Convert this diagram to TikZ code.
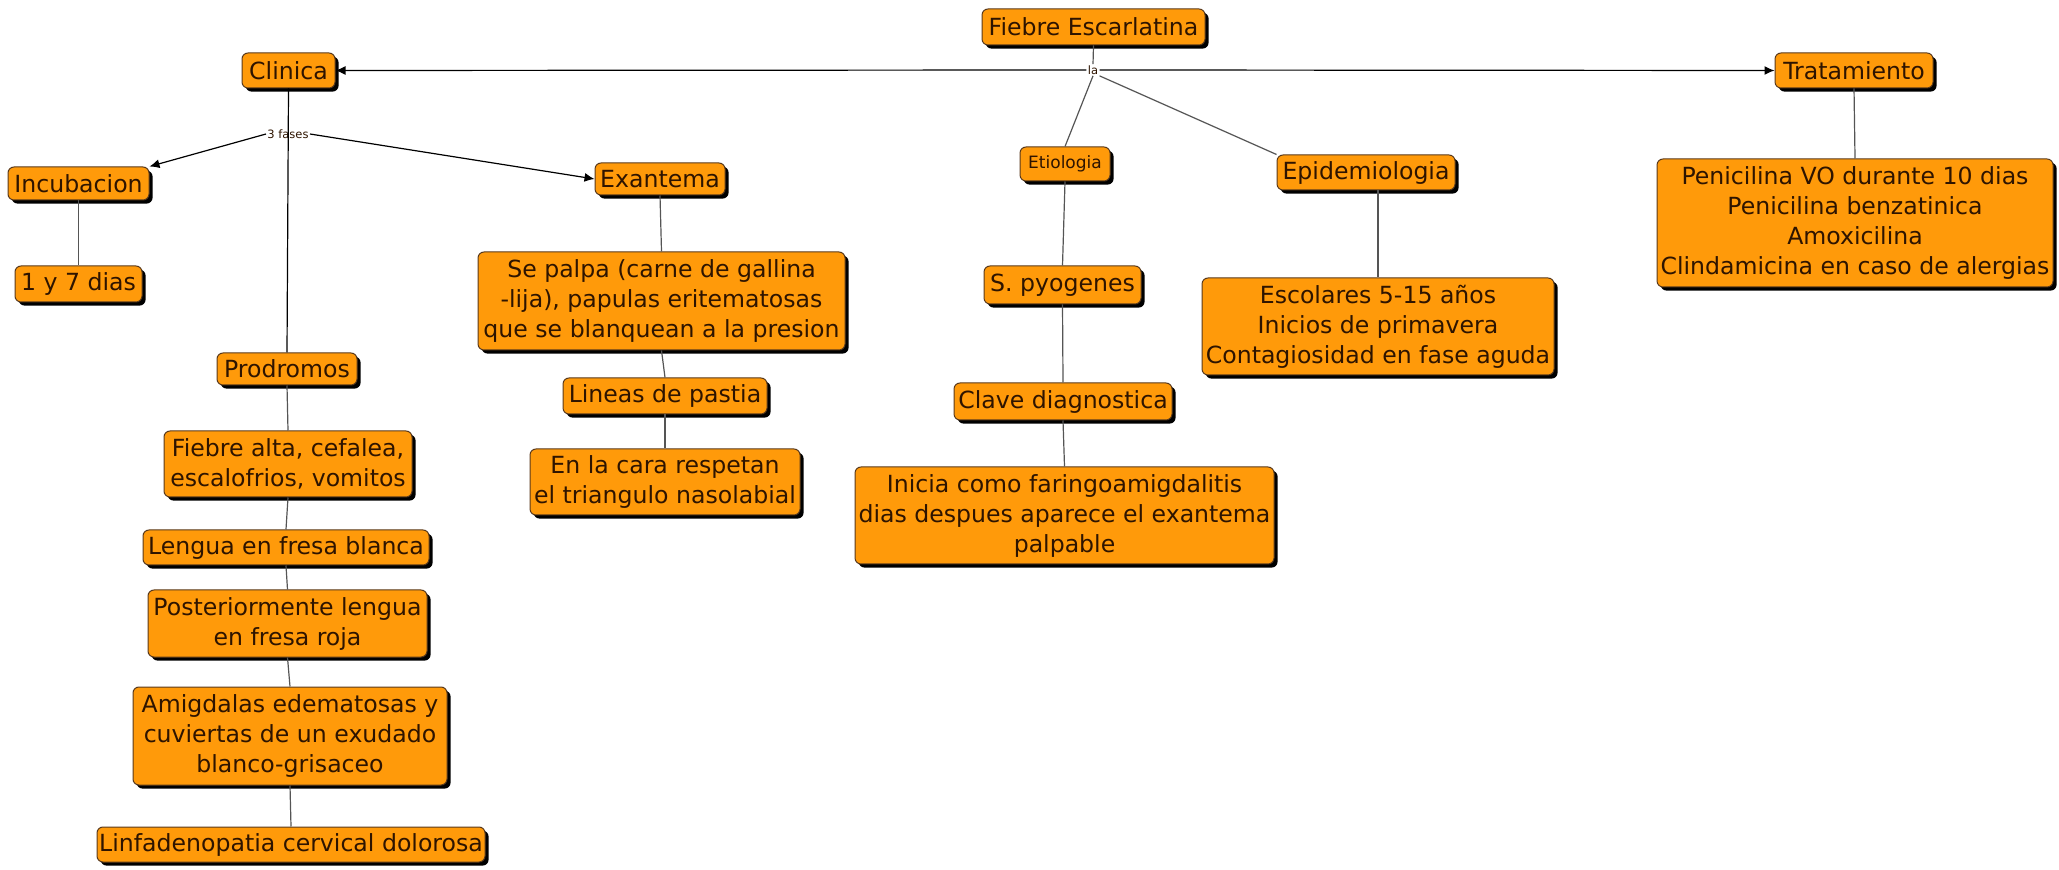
\documentclass[tikz,border=0pt]{standalone}
\usepackage{fontspec}
\setmainfont{DejaVu Sans}
\usetikzlibrary{shadows,arrows.meta}
\definecolor{boxfill}{HTML}{FF9A0A}
\definecolor{boxline}{HTML}{5A3A1C}
\definecolor{txt}{HTML}{2E1400}
\definecolor{conn}{HTML}{555555}
\tikzset{
  box/.style 2 args={draw=boxline, line width=0.5pt, fill=boxfill, rounded corners=3pt,
    text=txt, align=center, inner sep=1pt,
    minimum width=#1*0.5pt, minimum height=#2*0.5pt,
    font=\fontsize{11.8}{15}\selectfont,
    drop shadow={shadow xshift=1.8pt, shadow yshift=-1.8pt, fill=black, opacity=1}},
  smallbox/.style={font=\fontsize{8.5}{10}\selectfont},
  linkword/.style={text=txt, inner sep=0.5pt, font=\fontsize{5.75}{7}\selectfont},
  plain/.style={draw=conn, line width=0.6pt},
  arrowed/.style={draw=black, line width=0.6pt, -{Latex[length=5pt,width=4.5pt]}}
}
\begin{document}
\begin{tikzpicture}[x=0.5pt, y=-0.5pt]
\useasboundingbox (0,0) rectangle (2059,870);

% top level
\node[box={223}{36}] (fiebre) at (1093.5,27) {Fiebre Escarlatina};
\node[linkword, fill=white] (la) at (1093,70) {la};
\node[box={93}{35}] (clinica) at (288.5,70.5) {Clinica};
\node[box={158}{35}] (trat) at (1854,70.5) {Tratamiento};
\node[box={396}{128}] (penic) at (1855,223) {Penicilina VO durante 10 dias\\Penicilina benzatinica\\Amoxicilina\\Clindamicina en caso de alergias};
\node[box={90}{34}, smallbox] (etiol) at (1065,164) {Etiologia};
\node[box={178}{35}] (epid) at (1366,172.5) {Epidemiologia};
\node[box={352}{97}] (escol) at (1378,326.5) {Escolares 5-15 años\\Inicios de primavera\\Contagiosidad en fase aguda};

% clinica branch
\node[linkword] (fases) at (288,134) {3 fases};
\node[box={141}{33}] (incub) at (78.5,183.5) {Incubacion};
\node[box={127}{36}] (dias) at (78.5,284) {1 y 7 dias};
\node[box={130}{32}] (exant) at (660,179) {Exantema};
\node[box={367}{98}] (palpa) at (661.5,301) {Se palpa (carne de gallina\\-lija), papulas eritematosas\\que se blanquean a la presion};
\node[box={204}{36}] (lineas) at (665,396) {Lineas de pastia};
\node[box={270}{66}] (cara) at (665,482) {En la cara respetan\\el triangulo nasolabial};
\node[box={140}{32}] (prodr) at (287,369) {Prodromos};
\node[box={248}{66}] (falta) at (288,464) {Fiebre alta, cefalea,\\escalofrios, vomitos};
\node[box={286}{35}] (lengua) at (286,547.5) {Lengua en fresa blanca};
\node[box={279}{67}] (poster) at (287.5,623.5) {Posteriormente lengua\\en fresa roja};
\node[box={314}{98}] (amigd) at (290,736) {Amigdalas edematosas y\\cuviertas de un exudado\\blanco-grisaceo};
\node[box={388}{35}] (linfa) at (291,844.5) {Linfadenopatia cervical dolorosa};

% etiologia branch
\node[box={157}{38}] (spyo) at (1062.5,285) {S. pyogenes};
\node[box={218}{37}] (clave) at (1063,401.5) {Clave diagnostica};
\node[box={419}{97}] (inicia) at (1064.5,515.5) {Inicia como faringoamigdalitis\\dias despues aparece el exantema\\palpable};

% connectors from the title
\draw[plain] (fiebre.south) -- (la.north);
\draw[arrowed] (la.west) -- (clinica.east);
\draw[arrowed] (la.east) -- (trat.west);
\draw[plain] (la.south) -- (etiol.north);
\draw[plain] (la.south east) -- (epid.north west);
\draw[plain] (trat.south) -- (penic.north);
\draw[plain] (epid.south -| escol.north) -- (escol.north);

% clinica connectors
\draw[plain, draw=black] (clinica.south) -- (prodr.north);
\draw[arrowed] (fases.west) -- (incub.north east);
\draw[arrowed] (fases.east) -- (exant.west);
\draw[plain] (incub.south) -- (dias.north);
\draw[plain] (exant.south) -- (palpa.north);
\draw[plain] (palpa.south) -- (lineas.north);
\draw[plain] (lineas.south) -- (cara.north);
\draw[plain] (prodr.south) -- (falta.north);
\draw[plain] (falta.south) -- (lengua.north);
\draw[plain] (lengua.south) -- (poster.north);
\draw[plain] (poster.south) -- (amigd.north);
\draw[plain] (amigd.south) -- (linfa.north);

% etiologia connectors
\draw[plain] (etiol.south) -- (spyo.north);
\draw[plain] (spyo.south) -- (clave.north);
\draw[plain] (clave.south) -- (inicia.north);
\end{tikzpicture}
\end{document}
